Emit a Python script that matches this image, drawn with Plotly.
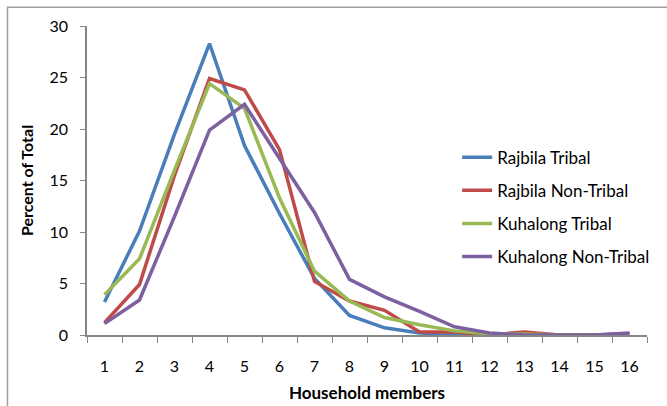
import plotly.graph_objects as go

members = [str(i) for i in range(1, 17)]
rajbila_tribal = [3.2, 10.1, 19.5, 28.3, 18.4, 11.8, 5.5, 1.9, 0.7, 0.2, 0.0, 0.1, 0.1, 0.0, 0.0, 0.1]
rajbila_non_tribal = [1.2, 4.9, 15.5, 24.9, 23.8, 18.0, 5.2, 3.3, 2.4, 0.3, 0.3, 0.0, 0.3, 0.0, 0.0, 0.1]
kuhalong_tribal = [3.9, 7.4, 16.0, 24.4, 22.0, 13.3, 6.2, 3.3, 1.7, 1.0, 0.4, 0.1, 0.1, 0.0, 0.0, 0.0]
kuhalong_non_tribal = [1.1, 3.4, 11.5, 19.9, 22.4, 17.2, 11.9, 5.4, 3.7, 2.3, 0.8, 0.2, 0.0, 0.0, 0.0, 0.2]

series = [
    ("Rajbila Tribal", rajbila_tribal, "#4a7ebb"),
    ("Rajbila Non-Tribal", rajbila_non_tribal, "#be4b48"),
    ("Kuhalong Tribal", kuhalong_tribal, "#98b954"),
    ("Kuhalong Non-Tribal", kuhalong_non_tribal, "#7d60a0"),
]

fig = go.Figure()
for i, (name, vals, col) in enumerate(series):
    fig.add_trace(go.Scatter(x=members, y=vals, name=name, mode="lines",
                             line=dict(color=col, width=3.5),
                             legendgroup=f"g{i}"))

font = "Lato, 'Open Sans', sans-serif"
fig.update_layout(
    width=667, height=406,
    margin=dict(l=87, r=20, t=26, b=71),
    paper_bgcolor="white", plot_bgcolor="white",
    font=dict(family=font, size=16, color="black"),
    showlegend=True,
    legend=dict(x=0.661, y=0.632, xanchor="left", yanchor="top",
                font=dict(size=17), tracegroupgap=8,
                bgcolor="rgba(0,0,0,0)"),
    xaxis=dict(type="category", tickson="boundaries", ticks="outside",
               range=[-0.5, 15.5], automargin=False,
               ticklen=6, tickcolor="#868686", showline=True,
               linecolor="#868686", linewidth=1.5, showgrid=False,
               ticklabelstandoff=16, tickfont=dict(size=16),
               title=dict(text="<b>Household members</b>", font=dict(size=17), standoff=13)),
    yaxis=dict(range=[0, 30], tickvals=[0, 5, 10, 15, 20, 25, 30],
               ticks="outside", ticklen=5, tickcolor="#868686",
               showline=True, linecolor="#868686", linewidth=1.5,
               showgrid=False, zeroline=False, ticklabelstandoff=9,
               automargin=False, tickfont=dict(size=16),
               title=dict(text="<b>Percent of Total</b>", font=dict(size=16), standoff=12)),
    shapes=[dict(type="rect", xref="paper", yref="paper",
                 x0=-0.142, x1=1.05, y0=-0.3, y1=1.061,
                 line=dict(color="#a0a0a0", width=1.5), layer="below")],
)

fig.write_html("out.html")
